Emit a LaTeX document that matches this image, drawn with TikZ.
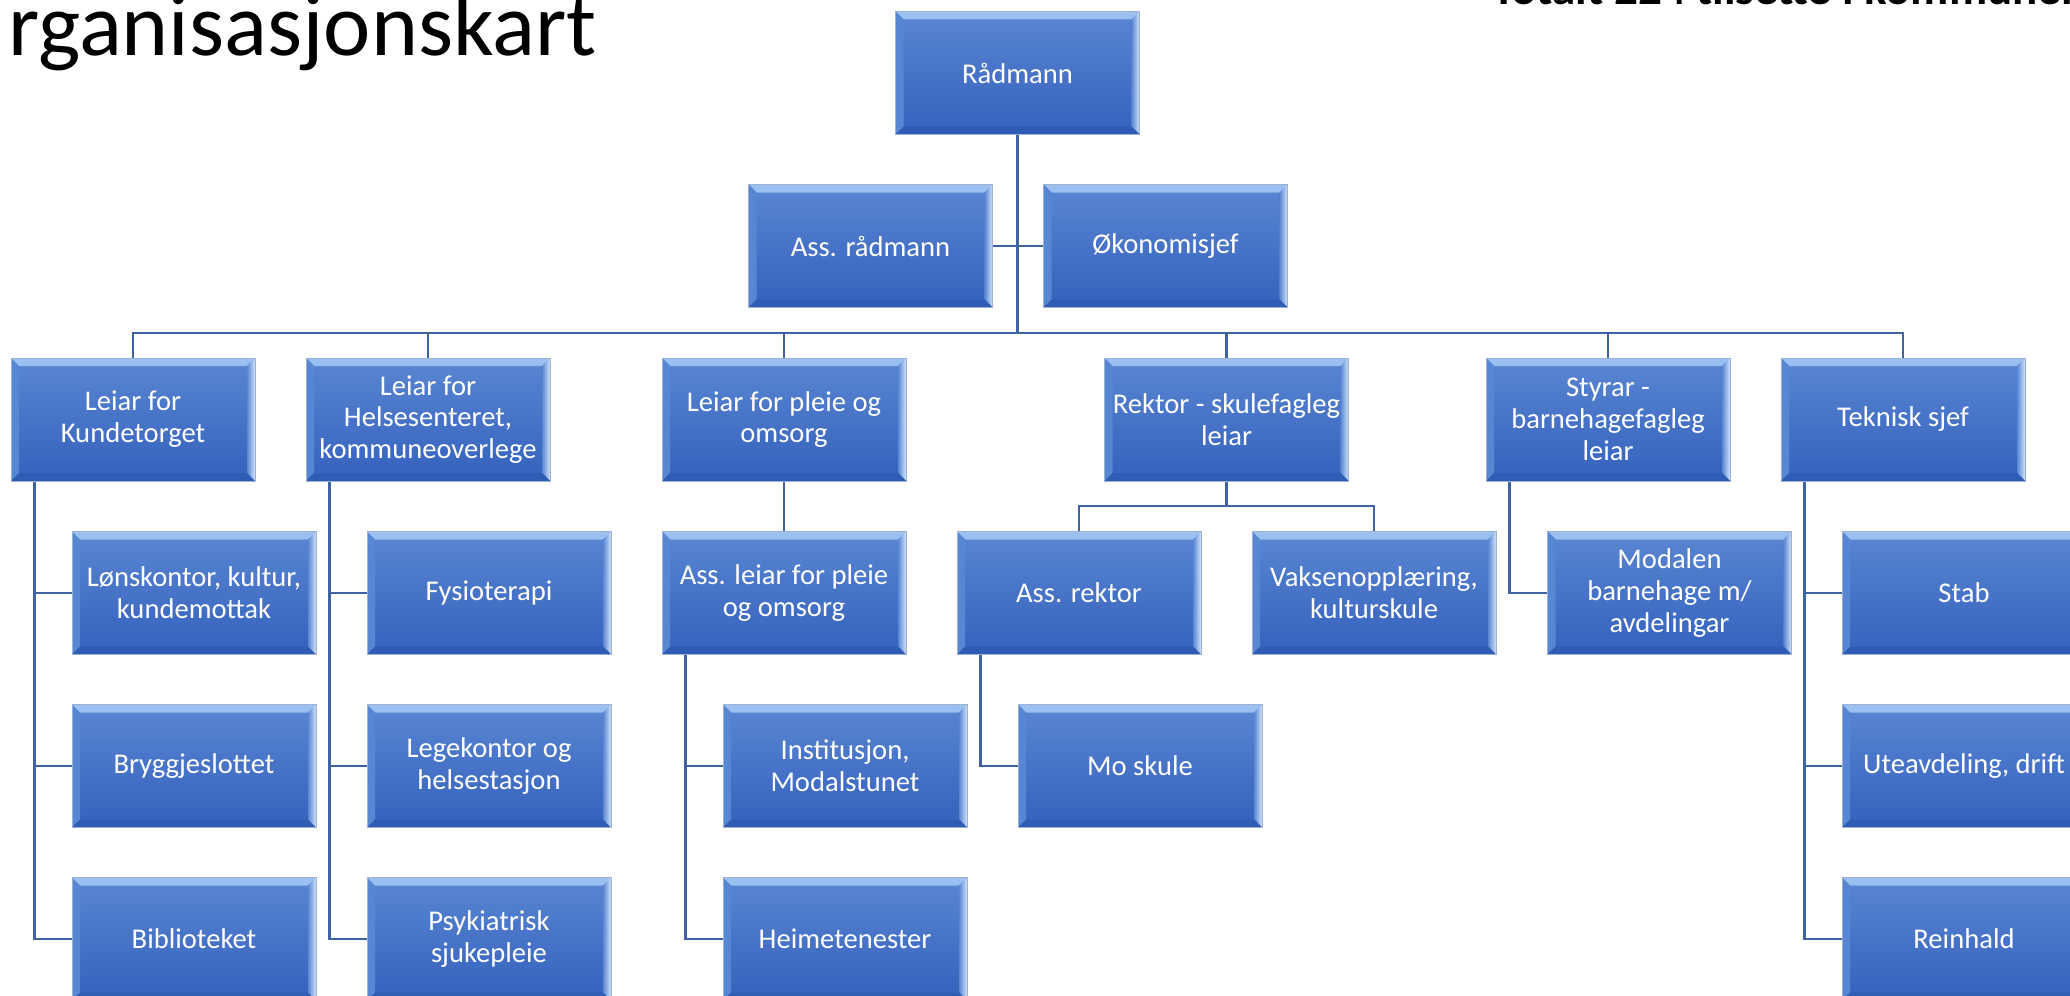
\documentclass[tikz,border=0pt]{standalone}
\usepackage{fontspec}
\setmainfont{Carlito}
\usetikzlibrary{calc,backgrounds}
\definecolor{bxtop}{HTML}{5A86D2}
\definecolor{bxbot}{HTML}{3461BD}
\definecolor{bxline}{HTML}{9FB1D3}
\definecolor{bvtopA}{HTML}{9CC2F2}
\definecolor{bvtopB}{HTML}{5E8CD6}
\definecolor{bvright}{HTML}{CFE4FA}
\definecolor{bvleft}{HTML}{5786D3}
\definecolor{bvbot}{HTML}{2F5CB5}
\definecolor{conn}{HTML}{3F62A0}
\newcommand\bxf{\fontsize{14.3}{15.9}\selectfont}
\tikzset{
  box/.style={rectangle, minimum width=122pt, minimum height=61.5pt, inner sep=0pt,
    text=white, font=\bxf, align=center,
    top color=bxtop, bottom color=bxbot, draw=bxline, line width=0.4pt,
    path picture={
      \shade[top color=bvtopA, bottom color=bvtopB]
        (path picture bounding box.north west) -- (path picture bounding box.north east)
        -- ([shift={(-4pt,-4pt)}]path picture bounding box.north east)
        -- ([shift={(4pt,-4pt)}]path picture bounding box.north west) -- cycle;
      \shade[left color=bxtop, right color=bvright]
        (path picture bounding box.north east) -- (path picture bounding box.south east)
        -- ([shift={(-4pt,4pt)}]path picture bounding box.south east)
        -- ([shift={(-4pt,-4pt)}]path picture bounding box.north east) -- cycle;
      \fill[bvleft]
        (path picture bounding box.north west) -- (path picture bounding box.south west)
        -- ([shift={(4pt,4pt)}]path picture bounding box.south west)
        -- ([shift={(4pt,-4pt)}]path picture bounding box.north west) -- cycle;
      \fill[bvbot]
        (path picture bounding box.south west) -- (path picture bounding box.south east)
        -- ([shift={(-4pt,4pt)}]path picture bounding box.south east)
        -- ([shift={(4pt,4pt)}]path picture bounding box.south west) -- cycle;
    }},
  link/.style={draw=conn, line width=1.4pt}
}
\begin{document}
\begin{tikzpicture}[x=0.5pt, y=-0.5pt]
\useasboundingbox (0,0) rectangle (2070,995);

% title texts
\node[anchor=base west, inner sep=0pt, font=\fontsize{44.8}{44.8}\selectfont] (title) at (8,56) {rganisasjonskart};
\node[anchor=base west, inner sep=0pt, font=\fontsize{23.5}{23.5}\selectfont\bfseries] (total) at (1492,5) {Totalt 224 tilsette i kommunen};

% nodes
\node[box] (rad) at (1017.5,73) {Rådmann};
\node[box] (assrad) at (870.5,246) {Ass. rådmann};
\node[box] (okon) at (1165.5,246) {Økonomisjef};

\node[box] (kund) at (133,419.5) {Leiar for\\Kundetorget};
\node[box] (hels) at (428,419.5) {Leiar for\\Helsesenteret,\\kommuneoverlege};
\node[box] (pleie) at (784,419.5) {Leiar for pleie og\\omsorg};
\node[box] (rektor) at (1226.5,419.5) {Rektor - skulefagleg\\leiar};
\node[box] (styrar) at (1608,419.5) {Styrar -\\barnehagefagleg\\leiar};
\node[box] (tek) at (1903,419.5) {Teknisk sjef};

\node[box] (lon) at (194,593) {Lønskontor, kultur,\\kundemottak};
\node[box] (bryg) at (194,766) {Bryggjeslottet};
\node[box] (bibl) at (194,939) {Biblioteket};

\node[box] (fys) at (489,593) {Fysioterapi};
\node[box] (lege) at (489,766) {Legekontor og\\helsestasjon};
\node[box] (psyk) at (489,939) {Psykiatrisk\\sjukepleie};

\node[box] (assleiar) at (784,593) {Ass. leiar for pleie\\og omsorg};
\node[box] (inst) at (845,766) {Institusjon,\\Modalstunet};
\node[box] (heime) at (845,939) {Heimetenester};

\node[box] (assrek) at (1079,593) {Ass. rektor};
\node[box] (vaks) at (1374,593) {Vaksenopplæring,\\kulturskule};
\node[box] (mo) at (1140,766) {Mo skule};

\node[box] (modal) at (1669.5,593) {Modalen\\barnehage m/\\avdelingar};

\node[box] (stab) at (1964,593) {Stab};
\node[box] (ute) at (1964,766) {Uteavdeling, drift};
\node[box] (rein) at (1964,939) {Reinhald};

\coordinate (bus) at (1017.5,333);
\coordinate (rsub) at (1226.5,506);

% connectors (behind boxes)
\begin{scope}[on background layer]
  \draw[link] (rad.south) -- (bus);
  \draw[link] (assrad.east) -- (assrad.east -| rad.south);
  \draw[link] (okon.west) -- (okon.west -| rad.south);
  \foreach \n in {kund,hels,pleie,rektor,styrar,tek}
    \draw[link] (bus) -| (\n.north);
  \draw[link] (pleie.south) -- (assleiar.north);
  \draw[link] (rektor.south) -- (rsub);
  \draw[link] (rsub) -| (assrek.north);
  \draw[link] (rsub) -| (vaks.north);
  \foreach \p/\c in {kund/lon,kund/bryg,kund/bibl,hels/fys,hels/lege,hels/psyk,
                     assleiar/inst,assleiar/heime,assrek/mo,styrar/modal,
                     tek/stab,tek/ute,tek/rein}
    \draw[link] ([xshift=12pt]\p.south west) |- (\c.west);
\end{scope}
\end{tikzpicture}
\end{document}
